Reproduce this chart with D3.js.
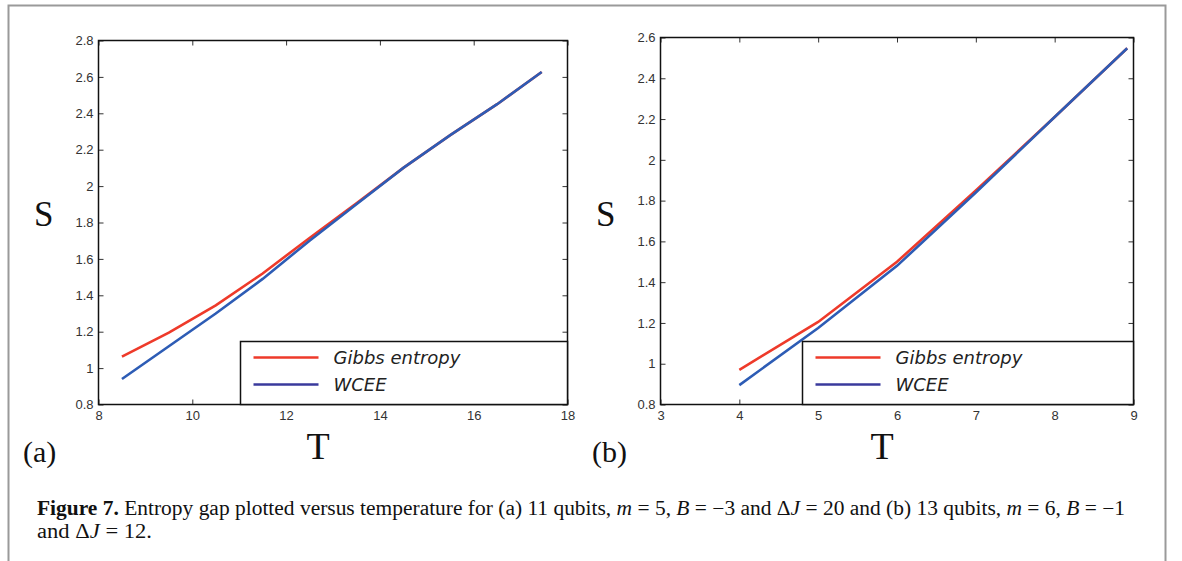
<!DOCTYPE html>
<html>
<head>
<meta charset="utf-8">
<script src="https://d3js.org/d3.v7.min.js"></script>
<style>
  body { margin: 0; background: #fff; }
  .tick text { font-family: "Liberation Sans", Arial, sans-serif; font-size: 13px; fill: #333; }
  .legend-text { font-family: "DejaVu Sans", sans-serif; font-style: italic; font-size: 18px; fill: #222; }
  .big { font-family: "Liberation Serif", "DejaVu Serif", serif; fill: #111; }
</style>
</head>
<body>
<svg id="fig" width="1182" height="561"></svg>
<script>
// panel (a): 11 qubits
const tA = [8.5, 9.5, 10.5, 11.5, 12.5, 13.5, 14.5, 15.5, 16.5, 17.45];
const gibbsA = [1.063, 1.195, 1.345, 1.52, 1.715, 1.905, 2.10, 2.28, 2.45, 2.627];
const wceeA  = [0.94, 1.12, 1.30, 1.49, 1.70, 1.90, 2.10, 2.28, 2.45, 2.627];
const xTicksA = [8, 10, 12, 14, 16, 18];
const yTicksA = [0.8, 1, 1.2, 1.4, 1.6, 1.8, 2, 2.2, 2.4, 2.6, 2.8];

// panel (b): 13 qubits
const tB = [4, 5, 6, 7, 8, 8.92];
const gibbsB = [0.97, 1.205, 1.50, 1.85, 2.21, 2.547];
const wceeB  = [0.895, 1.175, 1.48, 1.84, 2.21, 2.547];
const xTicksB = [3, 4, 5, 6, 7, 8, 9];
const yTicksB = [0.8, 1, 1.2, 1.4, 1.6, 1.8, 2, 2.2, 2.4, 2.6];

const seriesNames = ["Gibbs entropy", "WCEE"];
const lineColors = ["#ee3a2a", "#2d5cb5"];
const legendColors = ["#ee3a2a", "#3a3a9c"];

const svg = d3.select("#fig");

// outer frame
svg.append("rect")
  .attr("x", 8.5).attr("y", 5.5)
  .attr("width", 1157).attr("height", 570)
  .attr("fill", "none").attr("stroke", "#9a9a9a").attr("stroke-width", 2);

function panel(opt) {
  const x = d3.scaleLinear().domain(opt.xDom).range([opt.left, opt.right]);
  const y = d3.scaleLinear().domain(opt.yDom).range([opt.bottom, opt.top]);
  const g = svg.append("g");
  const fmt = d => String(+d.toFixed(1));

  g.append("g").attr("transform", `translate(0,${opt.bottom})`)
    .call(d3.axisBottom(x).tickValues(opt.xTicks).tickSizeInner(-5).tickSizeOuter(0).tickPadding(6).tickFormat(fmt));
  g.append("g").attr("transform", `translate(0,${opt.top})`)
    .call(d3.axisTop(x).tickValues(opt.xTicks).tickSizeInner(-5).tickSizeOuter(0).tickFormat(""));
  g.append("g").attr("transform", `translate(${opt.left},0)`)
    .call(d3.axisLeft(y).tickValues(opt.yTicks).tickSizeInner(-5).tickSizeOuter(0).tickPadding(5).tickFormat(fmt));
  g.append("g").attr("transform", `translate(${opt.right},0)`)
    .call(d3.axisRight(y).tickValues(opt.yTicks).tickSizeInner(-5).tickSizeOuter(0).tickFormat(""));
  g.selectAll(".domain").remove();
  g.selectAll(".tick line").attr("stroke", "#333");

  g.append("rect")
    .attr("x", opt.left).attr("y", opt.top)
    .attr("width", opt.right - opt.left).attr("height", opt.bottom - opt.top)
    .attr("fill", "none").attr("stroke", "#111").attr("stroke-width", 1.5);

  const line = d3.line().x(d => x(d[0])).y(d => y(d[1]));
  [opt.gibbs, opt.wcee].forEach((s, k) => {
    g.append("path")
      .datum(opt.t.map((t, i) => [t, s[i]]))
      .attr("d", line)
      .attr("fill", "none")
      .attr("stroke", lineColors[k])
      .attr("stroke-width", 2.6);
  });

  // legend
  const lg = g.append("g");
  lg.append("rect")
    .attr("x", opt.legX).attr("y", opt.legY)
    .attr("width", opt.right - opt.legX).attr("height", opt.bottom - opt.legY)
    .attr("fill", "#fff").attr("stroke", "#111").attr("stroke-width", 1.5);
  seriesNames.forEach((n, i) => {
    const yy = opt.legY + 16 + i * 27;
    lg.append("line")
      .attr("x1", opt.legX + 13).attr("x2", opt.legX + 78)
      .attr("y1", yy).attr("y2", yy)
      .attr("stroke", legendColors[i]).attr("stroke-width", 2.6);
    lg.append("text").attr("class", "legend-text")
      .attr("x", opt.legX + 93).attr("y", yy + 6).text(n);
  });

  // labels
  g.append("text").attr("class", "big").attr("font-size", 35)
    .attr("x", opt.sX).attr("y", 226).text("S");
  g.append("text").attr("class", "big").attr("font-size", 38)
    .attr("text-anchor", "middle")
    .attr("x", (opt.left + opt.right) / 2 - 15).attr("y", 459).text("T");
  g.append("text").attr("class", "big").attr("font-size", 30)
    .attr("x", opt.labX).attr("y", 462).text(opt.label);
}

panel({
  xDom: [8, 18], yDom: [0.8, 2.8], left: 98.5, right: 567.5, top: 40.5, bottom: 404.5,
  xTicks: xTicksA, yTicks: yTicksA, t: tA, gibbs: gibbsA, wcee: wceeA,
  legX: 240.5, legY: 341.5, sX: 34, labX: 23, label: "(a)"
});
panel({
  xDom: [3, 9], yDom: [0.8, 2.6], left: 660.5, right: 1133.5, top: 37.5, bottom: 404.5,
  xTicks: xTicksB, yTicks: yTicksB, t: tB, gibbs: gibbsB, wcee: wceeB,
  legX: 802.5, legY: 341.5, sX: 596, labX: 592, label: "(b)"
});

// caption
const cap = svg.append("text").attr("class", "big").attr("font-size", 20)
  .attr("x", 37).attr("y", 515)
  .attr("textLength", 1088).attr("lengthAdjust", "spacingAndGlyphs");
cap.append("tspan").attr("font-weight", "bold").text("Figure 7.");
cap.append("tspan").text(" Entropy gap plotted versus temperature for (a) 11 qubits, ");
cap.append("tspan").attr("font-style", "italic").text("m");
cap.append("tspan").text(" = 5, ");
cap.append("tspan").attr("font-style", "italic").text("B");
cap.append("tspan").text(" = \u22123 and \u0394");
cap.append("tspan").attr("font-style", "italic").text("J");
cap.append("tspan").text(" = 20 and (b) 13 qubits, ");
cap.append("tspan").attr("font-style", "italic").text("m");
cap.append("tspan").text(" = 6, ");
cap.append("tspan").attr("font-style", "italic").text("B");
cap.append("tspan").text(" = \u22121");
const cap2 = svg.append("text").attr("class", "big").attr("font-size", 20)
  .attr("x", 37).attr("y", 538)
  .attr("textLength", 115).attr("lengthAdjust", "spacingAndGlyphs");
cap2.append("tspan").text("and \u0394");
cap2.append("tspan").attr("font-style", "italic").text("J");
cap2.append("tspan").text(" = 12.");
</script>
</body>
</html>
